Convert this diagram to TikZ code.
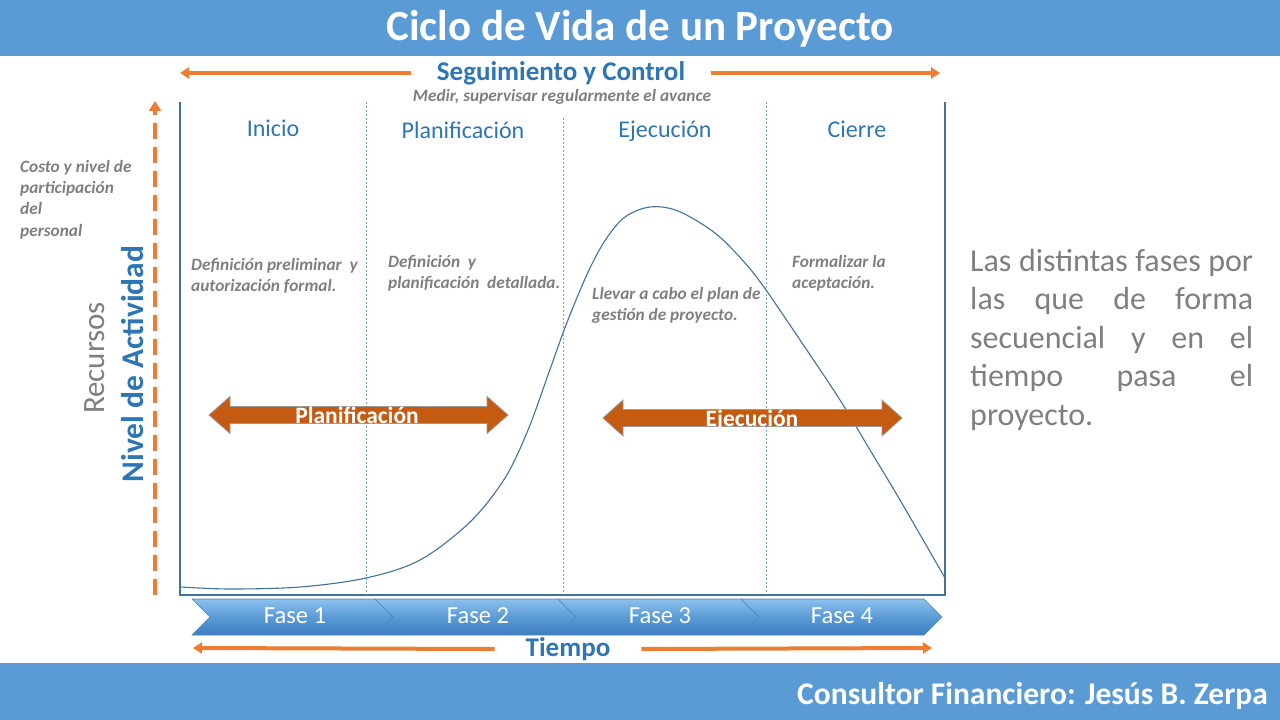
\documentclass[tikz,border=0pt]{standalone}
\usepackage{fontspec}
\setmainfont{Carlito}
\usetikzlibrary{arrows.meta}
\definecolor{barblue}{HTML}{5B9BD5}
\definecolor{txtblue}{HTML}{2E75B6}
\definecolor{orng}{HTML}{ED7D31}
\definecolor{rust}{HTML}{C55A11}
\definecolor{txtgray}{HTML}{7F7F7F}
\definecolor{framecol}{HTML}{41719C}
\definecolor{divcol}{HTML}{6FA8DC}
\definecolor{chevtop}{HTML}{8CC0EE}
\definecolor{chevmid}{HTML}{5B9BD5}
\definecolor{chevbot}{HTML}{3C7DC4}
\definecolor{chevedge}{HTML}{4A86C5}
\newcommand{\fsz}[2]{\fontsize{#1}{#2}\selectfont}
\begin{document}
\begin{tikzpicture}[x=1pt,y=-1pt,
  oarrow/.style={draw=orng, line width=4pt, -{Triangle[length=9pt,width=11pt]}},
  bluehead/.style={font=\fsz{27}{30}\bfseries, text=txtblue, inner ysep=0pt},
  phaselbl/.style={font=\fsz{24}{28}, text=txtblue, anchor=base},
  graydesc/.style={font=\fsz{17.3}{21}\bfseries\itshape, text=txtgray, align=left, inner sep=0pt, anchor=north west},
  fatarrow/.style={fill=rust, draw=gray!80, line width=0.8pt},
  fatlbl/.style={font=\fsz{23.5}{28}\bfseries, text=white, anchor=base},
  chevlbl/.style={font=\fsz{24.5}{28}, text=white},
  framestyle/.style={draw=framecol, line width=1.3pt},
  divstyle/.style={draw=divcol, line width=0.8pt, dash pattern=on 2pt off 2pt}
]
\useasboundingbox (0,0) rectangle (1280,720);

% bars
\fill[barblue] (0,0) rectangle (1280,56);
\node[font=\fsz{43}{46}\bfseries, text=white] (title) at (640,29) {Ciclo de Vida de un Proyecto};
\fill[barblue] (0,663) rectangle (1280,720);
\node[font=\fsz{31.5}{34}\bfseries, text=white, anchor=east, inner sep=0pt] (author) at (1268,696) {Consultor Financiero: Jesús B. Zerpa};

% Seguimiento y Control
\node[bluehead, inner xsep=26pt] (seg) at (561,73) {Seguimiento y Control};
\coordinate (segL) at (180,73);
\coordinate (segR) at (940,73);
\draw[oarrow] (seg.west) -- (segL);
\draw[oarrow] (seg.east) -- (segR);
\node[font=\fsz{17.3}{20}\bfseries\itshape, text=txtgray] (medir) at (562,97) {Medir, supervisar regularmente el avance};

% frame
\draw[framestyle] (180,102) -- (180,595) -- (945,595) -- (945,102);
\draw[divstyle] (366,102) -- (366,595);
\draw[divstyle] (563,118) -- (563,595);
\draw[divstyle] (766,102) -- (766,595);

% phase labels
\node[phaselbl] (inicio) at (273,136) {Inicio};
\node[phaselbl] (planif) at (463,138) {Planificación};
\node[phaselbl] (ejec) at (665,137) {Ejecución};
\node[phaselbl] (cierre) at (857,137) {Cierre};

% curve
\draw[framecol, line width=1.1pt] plot[smooth, tension=0.55] coordinates {
 (181,587) (230,589) (300,587) (366,578) (420,560) (470,522) (505,478) (528,430)
 (548,375) (563,333) (576,300) (590,268) (606,239) (625,217) (650,207) (678,211)
 (715,233) (745,263) (766,290) (800,340) (840,400) (870,450) (900,500) (945,578)};

% descriptions
\node[graydesc] (d1) at (191,258) {Definición preliminar \ y\\autorización formal.};
\node[graydesc] (d2) at (388,255) {Definición \ y\\planificación \ detallada.};
\node[graydesc] (d3) at (592,287) {Llevar a cabo el plan de\\gestión de proyecto.};
\node[graydesc] (d4) at (792,255) {Formalizar la\\aceptación.};

% left axis
\coordinate (axB) at (155,595);
\coordinate (axT) at (155,101);
\draw[draw=orng, line width=4pt, dash pattern=on 16pt off 8pt, -{Triangle[length=10pt,width=12pt]}] (axB) -- (axT);
\node[graydesc, font=\fsz{17.3}{21.3}\bfseries\itshape] (costo) at (20,160) {Costo y nivel de\\participación\\del\\personal};
\node[rotate=90, font=\fsz{31.5}{34}\bfseries, text=txtblue] (nivel) at (133,364) {Nivel de Actividad};
\node[rotate=90, font=\fsz{31}{34}, text=txtgray] (rec) at (95,358) {Recursos};

% fat arrows
\draw[fatarrow] (209,415) -- (230,396.5) -- (230,406.5) -- (487,406.5) -- (487,396.5) -- (508,415)
  -- (487,433.5) -- (487,423.5) -- (230,423.5) -- (230,433.5) -- cycle;
\node[fatlbl] (fplan) at (357,423) {Planificación};
\draw[fatarrow] (603,418) -- (623,400) -- (623,409.5) -- (882,409.5) -- (882,400) -- (902,418)
  -- (882,436) -- (882,426.5) -- (623,426.5) -- (623,436) -- cycle;
\node[fatlbl] (fejec) at (752,426) {Ejecución};

% chevrons
\foreach \i in {0,...,3}{
  \pgfmathsetmacro{\L}{192+183*\i}
  \shade[top color=chevtop, bottom color=chevbot, middle color=chevmid, draw=chevedge, line width=0.6pt]
    (\L,599) -- ({\L+183},599) -- ({\L+201},617) -- ({\L+183},635) -- (\L,635) -- ({\L+18},617) -- cycle;
}
\node[chevlbl] (fase1) at (295,616) {Fase 1};
\node[chevlbl] (fase2) at (478,616) {Fase 2};
\node[chevlbl] (fase3) at (660,616) {Fase 3};
\node[chevlbl] (fase4) at (842,616) {Fase 4};

% Tiempo
\node[bluehead, inner xsep=31pt] (tiempo) at (568,649) {Tiempo};
\coordinate (tL) at (193,648);
\coordinate (tR) at (932,648);
\draw[oarrow] (tiempo.west) -- (tL);
\draw[oarrow] (tiempo.east) -- (tR);

% right paragraph
\node[font=\fsz{32}{38.5}, text=txtgray, align=left, inner sep=0pt, anchor=north west] (para) at (970,249)
 {\makebox[283pt][s]{Las distintas fases por}\\
  \makebox[283pt][s]{las que de forma}\\
  \makebox[283pt][s]{secuencial y en el}\\
  \makebox[283pt][s]{tiempo pasa el}\\
  proyecto.};
\end{tikzpicture}
\end{document}
